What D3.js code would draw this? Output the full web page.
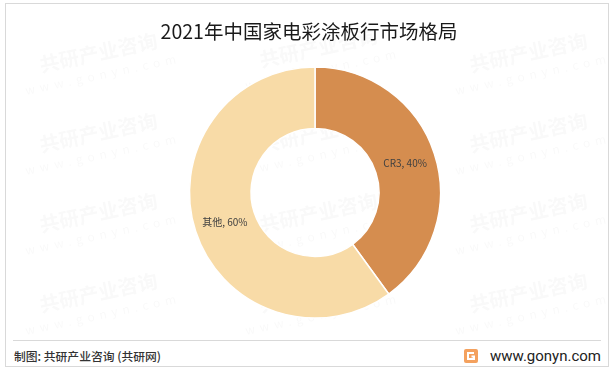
<!DOCTYPE html>
<html lang="zh">
<head>
<meta charset="UTF-8">
<title>2021年中国家电彩涂板行市场格局</title>
<style>
body { margin: 0; background: #fff; }
svg { display: block; font-family: "Noto Sans CJK SC", "Noto Sans", sans-serif; }
</style>
</head>
<body>
<script src="https://cdnjs.cloudflare.com/ajax/libs/d3/7.8.5/d3.min.js"></script>
<script>
var categories = ["CR3", "其他"];
var values = [40, 60];
var colors = ["#D58D4F", "#F8DBA7"];

var width = 614, height = 369;
var svg = d3.select("body").append("svg")
  .attr("width", width).attr("height", height);

// frame
svg.append("rect").attr("x", 5.5).attr("y", 3.5)
  .attr("width", 603).attr("height", 363)
  .attr("fill", "#fff").attr("stroke", "#d9d9d9");

// faint watermarks
var wm = svg.append("g").attr("fill", "#000").attr("opacity", 0.025);
[[100, 60], [320, 55], [530, 60], [100, 140], [320, 140], [530, 140],
 [100, 220], [320, 220], [530, 220], [100, 300], [320, 300], [530, 300]].forEach(function (p) {
  var g = wm.append("g").attr("transform", "translate(" + p[0] + "," + p[1] + ") rotate(-12)");
  g.append("text").attr("text-anchor", "middle").attr("font-size", 20).attr("font-weight", "bold")
    .text("共研产业咨询");
  g.append("text").attr("text-anchor", "middle").attr("y", 19).attr("font-size", 12)
    .attr("letter-spacing", 5).text("www.gonyn.com");
});

svg.append("text").attr("x", 309).attr("y", 39)
  .attr("text-anchor", "middle").attr("font-size", 19.5).attr("fill", "#1a1a1a")
  .text("2021年中国家电彩涂板行市场格局");

var cx = 315, cy = 192.5, rOut = 125.5, rIn = 64;
var pie = d3.pie().sort(null).value(function (d, i) { return values[i]; });
var arc = d3.arc().innerRadius(rIn).outerRadius(rOut);
var labelArc = d3.arc().innerRadius((rIn + rOut) / 2).outerRadius((rIn + rOut) / 2);

var g = svg.append("g").attr("transform", "translate(" + cx + "," + cy + ")");
var arcs = pie(categories);
g.selectAll("path").data(arcs).enter().append("path")
  .attr("d", arc)
  .attr("fill", function (d, i) { return colors[i]; })
  .attr("stroke", "#fff").attr("stroke-width", 1.5);

g.selectAll("text.lbl").data(arcs).enter().append("text").attr("class", "lbl")
  .attr("transform", function (d) {
    var c = labelArc.centroid(d);
    return "translate(" + c[0] + "," + (c[1] + 4) + ")";
  })
  .attr("text-anchor", "middle").attr("font-size", 10).attr("fill", "#404040")
  .text(function (d, i) { return categories[i] + ", " + values[i] + "%"; });

// footer
svg.append("line").attr("x1", 13).attr("x2", 601).attr("y1", 340.5).attr("y2", 340.5)
  .attr("stroke", "#d9d9d9");
svg.append("text").attr("x", 14).attr("y", 361).attr("font-size", 11.8)
  .attr("font-weight", 500).attr("fill", "#333")
  .text("制图: 共研产业咨询 (共研网)");
var logo = svg.append("g").attr("transform", "translate(464,349)");
logo.append("rect").attr("width", 14).attr("height", 14).attr("rx", 2).attr("fill", "#F4A15E");
logo.append("path").attr("d", "M10,4 H4 V10 H10 V7.5 H7.5").attr("fill", "none")
  .attr("stroke", "#fff").attr("stroke-width", 2);
svg.append("text").attr("x", 601).attr("y", 361).attr("text-anchor", "end")
  .attr("font-size", 15).attr("fill", "#222").attr("font-family", "Roboto, sans-serif")
  .text("www.gonyn.com");
</script>
</body>
</html>
